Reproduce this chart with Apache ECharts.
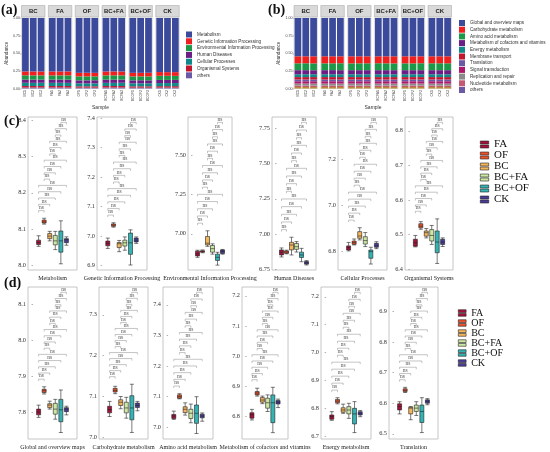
<!DOCTYPE html>
<html>
<head>
<meta charset="utf-8" />
<title>KEGG functions - abundance and boxplots</title>
<script src="https://cdn.jsdelivr.net/npm/echarts@6.0.0/dist/echarts.min.js"></script>
<style>body{margin:0;background:#fff;}</style>
</head>
<body>
<div id="main" style="width:550px;height:452px;"></div>
<script type="text/javascript">
// ---- data: stacked abundance (a), (b) ----
var facets = ['BC', 'FA', 'OF', 'BC+FA', 'BC+OF', 'CK'];
var samples = ['BC1', 'BC2', 'BC3', 'FA1', 'FA2', 'FA3', 'OF1', 'OF2', 'OF3',
  'BCFA1', 'BCFA2', 'BCFA3', 'BCOF1', 'BCOF2', 'BCOF3', 'CK1', 'CK2', 'CK3'];

var aNames = ['Metabolism', 'Genetic Information Processing', 'Environmental Information Processing',
  'Human Diseases', 'Cellular Processes', 'Organismal Systems', 'others'];
var aMetabolism = [0.758, 0.758, 0.759, 0.759, 0.759, 0.758, 0.778, 0.777, 0.778, 0.759, 0.758, 0.759, 0.778, 0.778, 0.777, 0.767, 0.768, 0.768];
var aGenetic = [0.055, 0.056, 0.055, 0.055, 0.055, 0.056, 0.050, 0.051, 0.050, 0.055, 0.056, 0.055, 0.050, 0.050, 0.051, 0.053, 0.052, 0.053];
var aEnvironmental = [0.060, 0.060, 0.059, 0.060, 0.059, 0.060, 0.056, 0.056, 0.055, 0.060, 0.060, 0.059, 0.056, 0.055, 0.056, 0.058, 0.058, 0.057];
var aHuman = [0.046, 0.046, 0.046, 0.046, 0.046, 0.046, 0.043, 0.043, 0.044, 0.046, 0.046, 0.046, 0.043, 0.044, 0.043, 0.045, 0.045, 0.045];
var aCellular = [0.046, 0.045, 0.046, 0.045, 0.046, 0.045, 0.042, 0.042, 0.042, 0.045, 0.045, 0.046, 0.042, 0.042, 0.042, 0.044, 0.044, 0.044];
var aOrganismal = [0.021, 0.021, 0.021, 0.021, 0.021, 0.021, 0.019, 0.019, 0.019, 0.021, 0.021, 0.021, 0.019, 0.019, 0.019, 0.020, 0.020, 0.020];
var aOthers = [0.014, 0.014, 0.014, 0.014, 0.014, 0.014, 0.012, 0.012, 0.012, 0.014, 0.014, 0.014, 0.012, 0.012, 0.012, 0.013, 0.013, 0.013];
var aValues = [aMetabolism, aGenetic, aEnvironmental, aHuman, aCellular, aOrganismal, aOthers];
var aColors = ['#3b4a9b', '#f0201f', '#1b9848', '#6b1f86', '#10898a', '#c4152f', '#6a5aa6'];

var bNames = ['Global and overview maps', 'Carbohydrate metabolism', 'Amino acid metabolism',
  'Metabolism of cofactors and vitamins', 'Energy metabolism', 'Membrane transport', 'Translation',
  'Signal transduction', 'Replication and repair', 'Nucleotide metabolism', 'others'];
var bGlobal = [0.543, 0.543, 0.543, 0.543, 0.543, 0.543, 0.543, 0.543, 0.543, 0.543, 0.543, 0.543, 0.543, 0.543, 0.543, 0.543, 0.543, 0.543];
var bCarbohydrate = [0.100, 0.099, 0.101, 0.100, 0.100, 0.099, 0.101, 0.100, 0.100, 0.099, 0.100, 0.101, 0.100, 0.101, 0.099, 0.100, 0.099, 0.100];
var bAmino = [0.097, 0.098, 0.097, 0.097, 0.096, 0.098, 0.096, 0.097, 0.097, 0.098, 0.097, 0.096, 0.097, 0.096, 0.098, 0.097, 0.098, 0.097];
var bCofactors = [0.058, 0.058, 0.057, 0.058, 0.059, 0.058, 0.058, 0.058, 0.058, 0.058, 0.058, 0.058, 0.058, 0.058, 0.058, 0.058, 0.058, 0.058];
var bEnergy = [0.040, 0.040, 0.040, 0.040, 0.040, 0.040, 0.040, 0.040, 0.040, 0.040, 0.040, 0.040, 0.040, 0.040, 0.040, 0.040, 0.040, 0.040];
var bMembrane = [0.034, 0.034, 0.034, 0.034, 0.034, 0.034, 0.034, 0.034, 0.034, 0.034, 0.034, 0.034, 0.034, 0.034, 0.034, 0.034, 0.034, 0.034];
var bTranslation = [0.025, 0.025, 0.025, 0.025, 0.025, 0.025, 0.025, 0.025, 0.025, 0.025, 0.025, 0.025, 0.025, 0.025, 0.025, 0.025, 0.025, 0.025];
var bSignal = [0.033, 0.033, 0.033, 0.033, 0.033, 0.033, 0.033, 0.033, 0.033, 0.033, 0.033, 0.033, 0.033, 0.033, 0.033, 0.033, 0.033, 0.033];
var bReplication = [0.028, 0.028, 0.028, 0.028, 0.028, 0.028, 0.028, 0.028, 0.028, 0.028, 0.028, 0.028, 0.028, 0.028, 0.028, 0.028, 0.028, 0.028];
var bNucleotide = [0.022, 0.022, 0.022, 0.022, 0.022, 0.022, 0.022, 0.022, 0.022, 0.022, 0.022, 0.022, 0.022, 0.022, 0.022, 0.022, 0.022, 0.022];
var bOthers = [0.020, 0.020, 0.020, 0.020, 0.020, 0.020, 0.020, 0.020, 0.020, 0.020, 0.020, 0.020, 0.020, 0.020, 0.020, 0.020, 0.020, 0.020];
var bValues = [bGlobal, bCarbohydrate, bAmino, bCofactors, bEnergy, bMembrane, bTranslation, bSignal, bReplication, bNucleotide, bOthers];
var bColors = ['#3b4a9b', '#f0201f', '#1b9848', '#6b1f86', '#10898a', '#c4152f', '#6a5aa6', '#b0186c', '#8b8b8b', '#c35a72', '#b5821d'];

// ---- data: boxplots (c), (d); [min, Q1, median, Q3, max] per group ----
var boxGroups = ['FA', 'OF', 'BC', 'BC+FA', 'BC+OF', 'CK'];
var boxColors = ['#a3123a', '#e9532d', '#f5b55c', '#cce8a2', '#33b3b3', '#4a3d99'];

var metabolism = [[8.053, 8.058, 8.064, 8.070, 8.082], [8.114, 8.117, 8.120, 8.125, 8.130], [8.068, 8.074, 8.081, 8.088, 8.094], [8.044, 8.057, 8.068, 8.083, 8.094], [8.005, 8.037, 8.068, 8.095, 8.123], [8.056, 8.063, 8.071, 8.074, 8.079]];
var genetic = [[6.958, 6.967, 6.975, 6.983, 6.993], [7.030, 7.033, 7.037, 7.041, 7.045], [6.947, 6.961, 6.974, 6.978, 6.985], [6.952, 6.966, 6.977, 6.986, 6.997], [6.902, 6.938, 6.977, 7.010, 7.021], [6.975, 6.980, 6.986, 6.993, 6.997]];
var environmental = [[6.850, 6.859, 6.872, 6.889, 6.895], [6.879, 6.883, 6.887, 6.892, 6.897], [6.920, 6.929, 6.940, 6.983, 7.019], [6.870, 6.883, 6.905, 6.925, 6.936], [6.800, 6.830, 6.850, 6.870, 6.882], [6.870, 6.875, 6.888, 6.896, 6.900]];
var human = [[6.836, 6.850, 6.869, 6.886, 6.900], [6.858, 6.862, 6.871, 6.879, 6.884], [6.850, 6.886, 6.921, 6.940, 6.976], [6.871, 6.890, 6.909, 6.932, 6.945], [6.802, 6.832, 6.850, 6.870, 6.897], [6.779, 6.785, 6.795, 6.803, 6.810]];
var cellular = [[6.800, 6.804, 6.814, 6.822, 6.837], [6.826, 6.829, 6.836, 6.843, 6.852], [6.848, 6.855, 6.865, 6.884, 6.901], [6.819, 6.830, 6.845, 6.862, 6.880], [6.743, 6.768, 6.797, 6.804, 6.816], [6.810, 6.816, 6.823, 6.833, 6.840]];
var organismal = [[6.464, 6.466, 6.476, 6.486, 6.497], [6.515, 6.519, 6.524, 6.531, 6.537], [6.490, 6.495, 6.505, 6.510, 6.517], [6.471, 6.481, 6.497, 6.514, 6.526], [6.416, 6.447, 6.478, 6.510, 6.545], [6.465, 6.471, 6.478, 6.486, 6.490]];
var globalMaps = [[7.785, 7.792, 7.800, 7.808, 7.819], [7.850, 7.854, 7.859, 7.863, 7.870], [7.808, 7.812, 7.819, 7.823, 7.830], [7.780, 7.794, 7.808, 7.824, 7.835], [7.743, 7.773, 7.806, 7.835, 7.861], [7.792, 7.801, 7.808, 7.812, 7.816]];
var carbohydrate = [[7.051, 7.060, 7.068, 7.076, 7.088], [7.107, 7.111, 7.115, 7.120, 7.125], [7.070, 7.078, 7.086, 7.092, 7.100], [7.047, 7.060, 7.072, 7.086, 7.098], [7.012, 7.043, 7.072, 7.102, 7.130], [7.065, 7.073, 7.078, 7.084, 7.088]];
var aminoAcid = [[7.026, 7.029, 7.037, 7.042, 7.053], [7.093, 7.095, 7.100, 7.106, 7.110], [7.040, 7.048, 7.059, 7.067, 7.080], [7.015, 7.029, 7.046, 7.059, 7.076], [6.980, 7.013, 7.046, 7.073, 7.100], [7.020, 7.031, 7.037, 7.043, 7.047]];
var cofactors = [[6.789, 6.795, 6.806, 6.813, 6.824], [6.868, 6.872, 6.878, 6.883, 6.894], [6.843, 6.848, 6.855, 6.863, 6.868], [6.817, 6.828, 6.846, 6.861, 6.872], [6.747, 6.780, 6.846, 6.872, 6.897], [6.830, 6.842, 6.848, 6.853, 6.858]];
var energy = [[6.757, 6.761, 6.770, 6.776, 6.788], [6.816, 6.820, 6.826, 6.832, 6.838], [6.782, 6.786, 6.794, 6.802, 6.815], [6.764, 6.780, 6.794, 6.806, 6.818], [6.713, 6.744, 6.780, 6.800, 6.824], [6.770, 6.776, 6.782, 6.788, 6.792]];
var translation = [[6.565, 6.578, 6.589, 6.598, 6.605], [6.635, 6.638, 6.642, 6.647, 6.652], [6.546, 6.565, 6.584, 6.587, 6.589], [6.560, 6.573, 6.584, 6.594, 6.605], [6.504, 6.537, 6.573, 6.594, 6.618], [6.595, 6.600, 6.606, 6.611, 6.615]];

// tick labels
var metabolismTicks = ['8.0', '8.1', '8.2', '8.3', '8.4'];
var geneticTicks = ['6.9', '7.0', '7.1', '7.2', '7.3', '7.4'];
var environmentalTicks = ['7.00', '7.25', '7.50'];
var humanTicks = ['6.75', '7.00', '7.25', '7.50', '7.75'];
var cellularTicks = ['6.8', '7.0', '7.2'];
var organismalTicks = ['6.4', '6.5', '6.6', '6.7', '6.8'];
var globalTicks = ['7.8', '7.9', '8.0', '8.1'];
var carbohydrateTicks = ['7.0', '7.1', '7.2', '7.3'];
var aminoTicks = ['7.0', '7.1', '7.2', '7.3', '7.4'];
var cofactorTicks = ['6.8', '6.9', '7.0', '7.1', '7.2'];
var energyTicks = ['6.7', '6.8', '6.9', '7.0', '7.1', '7.2'];
var translationTicks = ['6.5', '6.6', '6.7', '6.8', '6.9'];

// significance: all pairwise comparisons
var pairs = [[1, 2], [1, 3], [1, 4], [1, 5], [1, 6], [2, 3], [2, 4], [2, 5], [2, 6], [3, 4], [3, 5], [3, 6], [4, 5], [4, 6], [5, 6]];
var sigLabels = ['ns', 'ns', 'ns', 'ns', 'ns', 'ns', 'ns', 'ns', 'ns', 'ns', 'ns', 'ns', 'ns', 'ns', 'ns'];

// ---- layout ----
var panels = [
  {name: 'Metabolism', box: metabolism, ticks: metabolismTicks, range: [7.988, 8.408], left: 28, width: 49, top: 117, height: 153},
  {name: 'Genetic Information Processing', box: genetic, ticks: geneticTicks, range: [6.885, 7.403], left: 97, width: 50, top: 117, height: 153},
  {name: 'Environmental Information Processing', box: environmental, ticks: environmentalTicks, range: [6.769, 7.745], left: 188, width: 44, top: 117, height: 153},
  {name: 'Human Diseases', box: human, ticks: humanTicks, range: [6.743, 7.832], left: 272, width: 44, top: 117, height: 153},
  {name: 'Cellular Processes', box: cellular, ticks: cellularTicks, range: [6.717, 7.383], left: 338, width: 49, top: 117, height: 153},
  {name: 'Organismal Systems', box: organismal, ticks: organismalTicks, range: [6.397, 6.840], left: 405, width: 48, top: 117, height: 153},
  {name: 'Global and overview maps', box: globalMaps, ticks: globalTicks, range: [7.725, 8.147], left: 28, width: 49, top: 287, height: 152},
  {name: 'Carbohydrate metabolism', box: carbohydrate, ticks: carbohydrateTicks, range: [6.996, 7.368], left: 99, width: 49, top: 287, height: 152},
  {name: 'Amino acid metabolism', box: aminoAcid, ticks: aminoTicks, range: [6.962, 7.458], left: 163, width: 50, top: 287, height: 152},
  {name: 'Metabolism of cofactors and vitamins', box: cofactors, ticks: cofactorTicks, range: [6.726, 7.229], left: 242, width: 46, top: 287, height: 152},
  {name: 'Energy metabolism', box: energy, ticks: energyTicks, range: [6.690, 7.235], left: 321, width: 50, top: 287, height: 152},
  {name: 'Translation', box: translation, ticks: translationTicks, range: [6.483, 6.980], left: 389, width: 49, top: 287, height: 152}
];

var SERIF = 'Liberation Serif';
var SANS = 'Liberation Sans';

var grids = [], xAxes = [], yAxes = [], series = [], graphics = [];

function addGrid(g) {
  g.outerBoundsMode = 'none';
  grids.push(g);
  return grids.length - 1;
}

// stacked facets
function buildFacets(names, values, colors, left0, step, stackKey) {
  for (var f = 0; f < facets.length; f++) {
    var left = left0 + f * step;
    var gi = addGrid({left: left, top: 18, width: 23.5, height: 70.5, show: true,
      borderColor: '#c8c8c8', borderWidth: 0.6, backgroundColor: '#fff'});
    xAxes.push({type: 'category', gridIndex: gi, data: samples.slice(f * 3, f * 3 + 3),
      axisLine: {show: false}, axisTick: {length: 1.5, lineStyle: {color: '#555', width: 0.4}},
      axisLabel: {rotate: 90, fontSize: 3.4, margin: 1.5, color: '#444', interval: 0, fontFamily: SANS}});
    yAxes.push({type: 'value', gridIndex: gi, min: 0, max: 1, interval: 0.25,
      axisLine: {show: false}, splitLine: {show: false},
      axisTick: {show: f === 0, length: 1.5, lineStyle: {color: '#555', width: 0.4}},
      axisLabel: {show: f === 0, fontSize: 3.6, margin: 1.5, color: '#444', fontFamily: SANS,
        formatter: function (v) { return v.toFixed(2); }},
      name: f === 0 ? 'Abundance' : '', nameLocation: 'middle', nameGap: 11,
      nameTextStyle: {fontSize: 4.5, color: '#333', fontFamily: SANS}});
    var ai = xAxes.length - 1;
    // bottom of the stack is the last legend entry
    for (var s = names.length - 1; s >= 0; s--) {
      series.push({name: names[s], type: 'bar', stack: stackKey + f, xAxisIndex: ai, yAxisIndex: ai,
        barCategoryGap: '14%', data: values[s].slice(f * 3, f * 3 + 3),
        itemStyle: {color: colors[s]}, silent: true});
    }
    graphics.push({type: 'rect', shape: {x: left, y: 5.5, width: 23.5, height: 11.5},
      style: {fill: '#d9d9d9', stroke: '#a0a0a0', lineWidth: 0.5}});
    graphics.push({type: 'text', x: left + 11.75, y: 11.3,
      style: {text: facets[f], fontSize: 6, fontWeight: 'bold', fontFamily: SANS, fill: '#222',
        align: 'center', verticalAlign: 'middle'}});
  }
}
buildFacets(aNames, aValues, aColors, 21.5, 26.85, 'a');
buildFacets(bNames, bValues, bColors, 294, 26.8, 'b');

function renderBracket(params, api) {
  var a = api.coord([api.value(0), api.value(2)]);
  var b = api.coord([api.value(1), api.value(2)]);
  return {
    type: 'group',
    children: [
      {type: 'polyline', shape: {points: [[a[0], a[1] + 2], [a[0], a[1]], [b[0], b[1]], [b[0], b[1] + 2]]},
        style: {stroke: '#8a8a8a', lineWidth: 0.5, fill: 'none'}},
      {type: 'text', x: (a[0] + b[0]) / 2, y: a[1] - 0.2,
        style: {text: sigLabels[params.dataIndex], fontSize: 5.5, fontFamily: SERIF, fill: '#555',
          align: 'center', verticalAlign: 'bottom'}}
    ]
  };
}

// boxplot panels
panels.forEach(function (p) {
  var gi = addGrid({left: p.left, top: p.top, width: p.width, height: p.height, show: true,
    borderColor: '#b8b8b8', borderWidth: 0.8, backgroundColor: '#fff'});
  var tickVals = p.ticks.map(Number);
  var dec = p.ticks[0].split('.')[1].length;
  xAxes.push({type: 'value', gridIndex: gi, min: -0.9, max: 7.9,
    axisLine: {show: false}, axisTick: {show: false}, axisLabel: {show: false}, splitLine: {show: false},
    name: p.name, nameLocation: 'middle', nameGap: 5.5,
    nameTextStyle: {fontSize: 6, fontFamily: SERIF, color: '#222'}});
  yAxes.push({type: 'value', gridIndex: gi, min: p.range[0], max: p.range[1],
    axisLine: {show: false}, splitLine: {show: false},
    axisTick: {show: true, length: 1.5, customValues: tickVals, lineStyle: {color: '#666', width: 0.5}},
    axisLabel: {customValues: tickVals, showMinLabel: true, showMaxLabel: true, hideOverlap: false,
      fontSize: 6.3, fontFamily: SERIF, color: '#333', margin: 2,
      formatter: function (v) { return v.toFixed(dec); }}});
  var ai = xAxes.length - 1;
  series.push({type: 'boxplot', xAxisIndex: ai, yAxisIndex: ai, boxWidth: [4, 4], silent: true,
    itemStyle: {borderColor: '#222', borderWidth: 0.6},
    data: p.box.map(function (b, i) {
      return {value: [i + 1].concat(b), itemStyle: {color: boxColors[i]}};
    })});
  var top = Math.max.apply(null, p.box.map(function (b) { return b[4]; }));
  var span = p.range[1] - p.range[0];
  var first = top + 0.05 * span;
  var last = p.range[1] - 0.035 * span;
  series.push({type: 'custom', coordinateSystem: 'cartesian2d', xAxisIndex: ai, yAxisIndex: ai,
    silent: true, renderItem: renderBracket,
    data: pairs.map(function (pr, k) {
      return [pr[0], pr[1], first + k * (last - first) / (pairs.length - 1)];
    })});
});

// empty series that carry the group colours for the box legends
var hg = addGrid({left: 0, top: 0, width: 1, height: 1, show: false});
xAxes.push({type: 'category', gridIndex: hg, show: false, data: []});
yAxes.push({type: 'value', gridIndex: hg, show: false});
boxGroups.forEach(function (g, i) {
  series.push({name: g, type: 'bar', xAxisIndex: xAxes.length - 1, yAxisIndex: yAxes.length - 1,
    data: [], itemStyle: {color: boxColors[i], borderColor: '#222', borderWidth: 0.6}});
});

var boxIcon = 'path://M0,0H12V4.3H0ZM0,5.7H12V10H0Z';
function boxLegendData() {
  return boxGroups.map(function (g, i) {
    return {name: g, icon: boxIcon, itemStyle: {color: boxColors[i], borderColor: '#222', borderWidth: 0.6}};
  });
}

// panel letters and shared axis titles
[['(a)', 1, 10.5], ['(b)', 268, 10.5], ['(c)', 4, 121], ['(d)', 4, 283]].forEach(function (t) {
  graphics.push({type: 'text', x: t[1], y: t[2],
    style: {text: t[0], fontSize: 14, fontWeight: 'bold', fontFamily: SERIF, fill: '#111', verticalAlign: 'middle'}});
});
graphics.push({type: 'text', x: 100.5, y: 108, style: {text: 'Sample', fontSize: 5, fontFamily: SANS, fill: '#333', align: 'center', verticalAlign: 'middle'}});
graphics.push({type: 'text', x: 373, y: 108, style: {text: 'Sample', fontSize: 5, fontFamily: SANS, fill: '#333', align: 'center', verticalAlign: 'middle'}});

var option = {
  animation: false,
  grid: grids,
  xAxis: xAxes,
  yAxis: yAxes,
  series: series,
  graphic: graphics,
  legend: [
    {data: aNames, orient: 'vertical', left: 186, top: 31.5, padding: 0, itemWidth: 6, itemHeight: 6,
      itemGap: 0.8, icon: 'rect', selectedMode: false,
      textStyle: {fontSize: 4.6, fontFamily: SANS, color: '#333', lineHeight: 6}},
    {data: bNames, orient: 'vertical', left: 459, top: 20, padding: 0, itemWidth: 6, itemHeight: 6,
      itemGap: 0.7, icon: 'rect', selectedMode: false,
      textStyle: {fontSize: 4.6, fontFamily: SANS, color: '#333', lineHeight: 6}},
    {data: boxLegendData(), orient: 'vertical',
      left: 480, top: 139, padding: 0, itemWidth: 9, itemHeight: 7, itemGap: 0, selectedMode: false,
      textStyle: {fontSize: 11, fontFamily: SERIF, color: '#111', lineHeight: 10.2}},
    {data: boxLegendData(), orient: 'vertical',
      left: 458, top: 308, padding: 0, itemWidth: 8, itemHeight: 6.5, itemGap: 0, selectedMode: false,
      textStyle: {fontSize: 10, fontFamily: SERIF, color: '#111', lineHeight: 9.9}}
  ]
};

var chart = echarts.init(document.getElementById('main'));
chart.setOption(option);
</script>
</body>
</html>
